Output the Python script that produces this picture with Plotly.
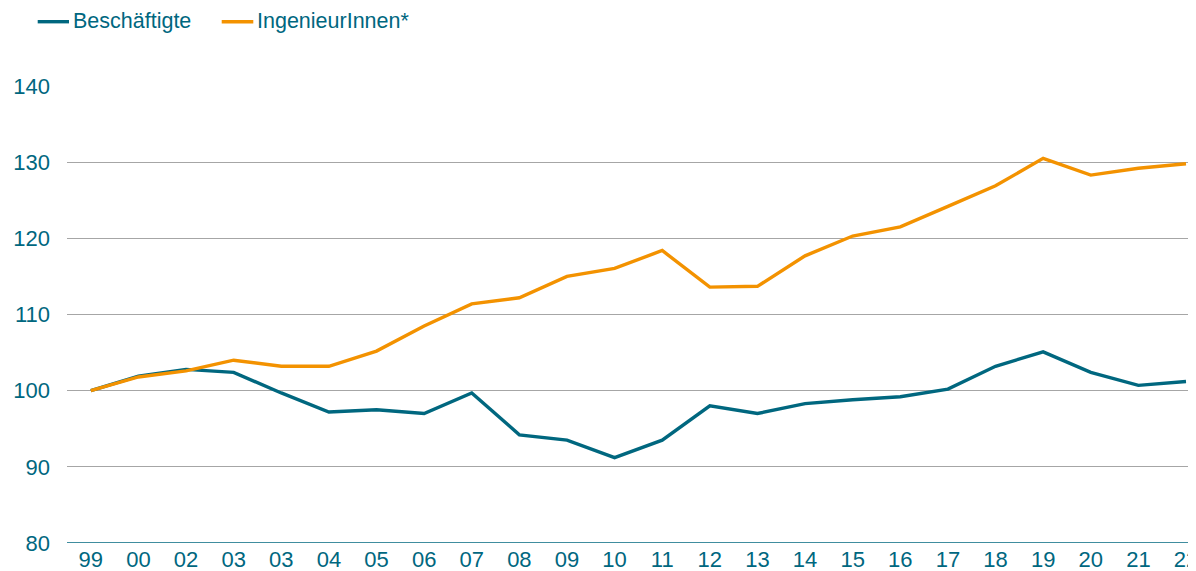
import plotly.graph_objects as go

tick_labels = ["99", "00", "02", "03", "03", "04", "05", "06", "07", "08", "09", "10",
               "11", "12", "13", "14", "15", "16", "17", "18", "19", "20", "21", "22"]
beschaeftigte = [100.0, 101.9, 102.8, 102.4, 99.7, 97.2, 97.5, 97.0, 99.7, 94.2, 93.5, 91.2,
                 93.5, 98.0, 97.0, 98.3, 98.8, 99.2, 100.2, 103.2, 105.1, 102.4, 100.7, 101.2]
ingenieure = [100.0, 101.8, 102.6, 104.0, 103.2, 103.2, 105.2, 108.5, 111.4, 112.2, 115.0, 116.05,
              118.4, 113.6, 113.7, 117.7, 120.3, 121.5, 124.2, 126.9, 130.5, 128.3, 129.2, 129.8]
y_ticks = [80, 90, 100, 110, 120, 130, 140]
series_names = ["Beschäftigte", "IngenieurInnen*"]

BLUE = "#00677F"
ORANGE = "#F39200"
FONT = "Liberation Sans, Arial, sans-serif"
FS = 22
FS_LEG = 21.5

W, H = 1188, 563            # page body has an 8px margin
ML, MR, MT, MB = 59, 0, 78, 28
PW, PH = W - ML - MR, H - MT - MB


def px(fx):
    return (fx - ML) / PW


def py(fy):
    return (H - MB - fy) / PH


x = list(range(len(tick_labels)))

fig = go.Figure()
fig.add_trace(go.Scatter(x=x, y=beschaeftigte, mode="lines", name=series_names[0],
                         line=dict(color=BLUE, width=3.4), showlegend=False))
fig.add_trace(go.Scatter(x=x, y=ingenieure, mode="lines", name=series_names[1],
                         line=dict(color=ORANGE, width=3.4), showlegend=False))

fig.update_layout(
    width=W, height=H,
    margin=dict(l=ML, r=MR, t=MT, b=MB),
    paper_bgcolor="white", plot_bgcolor="white",
    font=dict(family=FONT, size=FS, color=BLUE),
    showlegend=False,
    xaxis=dict(range=[-0.5, 23.21], tickmode="array", tickvals=x, ticktext=tick_labels,
               showgrid=False, zeroline=False, showline=False, ticks="",
               ticklabeloverflow="allow", automargin=False,
               tickfont=dict(family=FONT, size=FS, color=BLUE), ticklabelstandoff=1),
    yaxis=dict(range=[80, 140], tickmode="array", tickvals=y_ticks,
               showgrid=True, gridcolor="#A6A6A6", gridwidth=1, zeroline=False,
               showline=False, ticks="", automargin=False,
               tickfont=dict(family=FONT, size=FS, color=BLUE), ticklabelstandoff=16),
)

fig.add_shape(type="line", xref="paper", yref="y", x0=0, x1=1, y0=80, y1=80,
              line=dict(color=BLUE, width=1.5), layer="above")

# legend drawn manually (sample line + label)
leg_y = 13.7
for (x0, x1, tx), name, col in zip([(29.7, 61.0, 63.7), (213.7, 245.3, 247.7)],
                                   series_names, [BLUE, ORANGE]):
    fig.add_shape(type="line", xref="paper", yref="paper",
                  x0=px(x0), x1=px(x1), y0=py(leg_y), y1=py(leg_y),
                  line=dict(color=col, width=3.4))
    fig.add_annotation(xref="paper", yref="paper", x=px(tx), y=py(leg_y - 0.5),
                       text=name, showarrow=False, xanchor="left", yanchor="middle",
                       font=dict(family=FONT, size=FS_LEG, color=BLUE), borderpad=0)

fig.write_html("out.html")
